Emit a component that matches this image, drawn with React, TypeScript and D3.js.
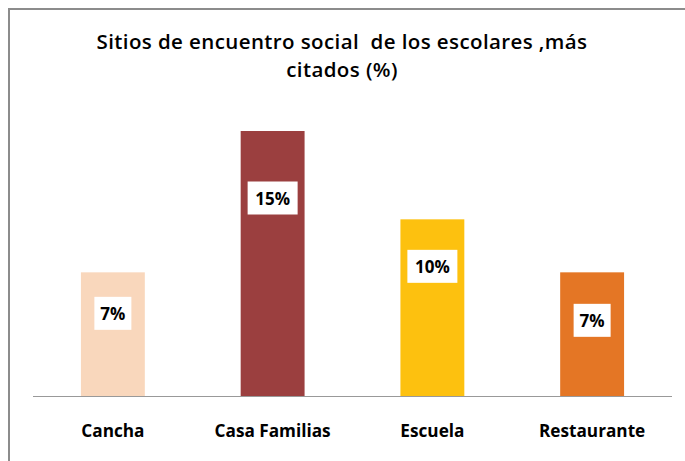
import React from "react";
import * as d3 from "d3";

const categories = ["Cancha", "Casa Familias", "Escuela", "Restaurante"];
const values = [7, 15, 10, 7];
const valueLabels = ["7%", "15%", "10%", "7%"];
const colors = ["#F9D7BC", "#9B3F3F", "#FDC10F", "#E47625"];
const titleLines = ["Sitios de encuentro social  de los escolares ,más", "citados (%)"];
// label box centre offsets below bar top (px)
const labelOffsets = [41, 67, 47, 48];

const W = 685;
const H = 461;
const FONT = "'Open Sans', Lato, sans-serif";

export default function App() {
  const x = d3.scaleBand<string>().domain(categories).range([33, 672]).paddingInner(0.6).paddingOuter(0.3);
  const y = d3.scaleLinear().domain([0, 15]).range([396, 131]);
  const labelW = (s: string) => (s.length === 2 ? 37 : 50);
  return (
    <svg width={W} height={H} style={{ position: "absolute", left: 0, top: 0, background: "#fff" }}>
      <rect x={9} y={9} width={W + 20} height={H + 20} fill="#fff" stroke="#8c8c8c" strokeWidth={2} />
      {titleLines.map((t, i) => (
        <text key={i} x={342} y={49 + i * 28} textAnchor="middle" fontFamily={FONT} fontWeight={600} fontSize={20.5} letterSpacing={0.4} fill="#000" style={{ whiteSpace: "pre" }}>
          {t}
        </text>
      ))}
      {categories.map((c, i) => (
        <rect key={c} x={x(c)} y={y(values[i])} width={x.bandwidth()} height={y(0) - y(values[i])} fill={colors[i]} />
      ))}
      <line x1={33} x2={672} y1={396.5} y2={396.5} stroke="#999" strokeWidth={1} />
      {categories.map((c, i) => {
        const cx = (x(c) as number) + x.bandwidth() / 2;
        const cy = y(values[i]) + labelOffsets[i];
        const w = labelW(valueLabels[i]);
        return (
          <g key={c}>
            <rect x={cx - w / 2} y={cy - 16.5} width={w} height={33} fill="#fff" />
            <text x={cx} y={cy + 6.5} textAnchor="middle" fontFamily={FONT} fontWeight="bold" fontSize={17} fill="#000">
              {valueLabels[i]}
            </text>
          </g>
        );
      })}
      {categories.map((c) => (
        <text key={c} x={(x(c) as number) + x.bandwidth() / 2} y={437} textAnchor="middle" fontFamily={FONT} fontWeight="bold" fontSize={17.2} fill="#000">
          {c}
        </text>
      ))}
    </svg>
  );
}
